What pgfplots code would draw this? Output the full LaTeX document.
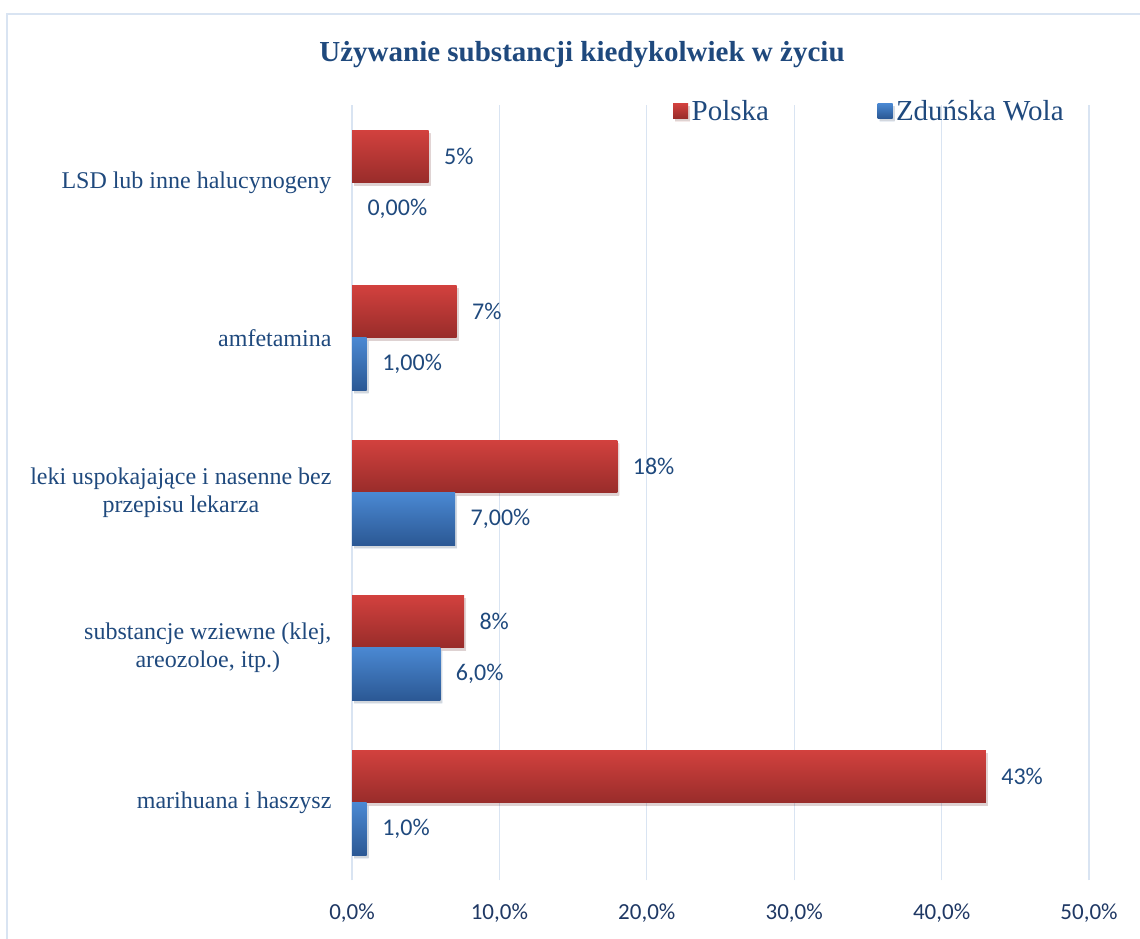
\documentclass[border=0pt]{standalone}
\usepackage{pgfplots}
\pgfplotsset{compat=1.18}
\usepackage{fontspec}
\setmainfont{Liberation Serif}
\newfontfamily\calibri{Carlito}
\definecolor{txt}{RGB}{31,73,125}
\definecolor{ticktxt}{RGB}{31,56,100}
\definecolor{gridc}{RGB}{217,228,242}
\definecolor{redtop}{RGB}{210,65,62}
\definecolor{redbot}{RGB}{152,44,42}
\definecolor{bluetop}{RGB}{74,136,210}
\definecolor{bluebot}{RGB}{43,88,148}
\pgfplotsset{
  barshadow/.style={preaction={fill=black, fill opacity=0.10, transform canvas={xshift=2pt, yshift=-3pt}}},
  polska/.style={xbar, bar shift=26.25pt, draw=none, barshadow, top color=redtop, bottom color=redbot,
    every node near coord/.append style={yshift=26.25pt},
    legend image code/.code={\path[top color=redtop, bottom color=redbot] (0pt,-7.5pt) rectangle (15pt,7.5pt);}},
  zdw/.style={xbar, bar shift=-26.25pt, draw=none, barshadow, top color=bluetop, bottom color=bluebot,
    every node near coord/.append style={yshift=-26.25pt},
    legend image code/.code={\path[top color=bluetop, bottom color=bluebot] (0pt,-7.5pt) rectangle (15pt,7.5pt);}},
  zdwzero/.style={xbar, bar shift=-26.25pt, draw=none, fill=none,
    every node near coord/.append style={yshift=-26.25pt}},
}
\begin{document}
\begin{tikzpicture}[x=1pt,y=1pt]
\useasboundingbox (0,0) rectangle (1140,939);
\draw[gridc, line width=2pt] (7,0) -- (7,925) -- (1140,925);
\node[font=\fontsize{29}{34}\selectfont\bfseries, text=txt] at (582,884) {Używanie substancji kiedykolwiek w życiu};
\begin{axis}[
  at={(352pt,58.5pt)}, anchor=south west,
  scale only axis, width=737pt, height=775pt,
  xmin=0, xmax=50, ymin=-0.5, ymax=4.5,
  axis line style={draw=none},
  major tick length=0pt,
  xmajorgrids, grid style={gridc, line width=1.3pt},
  xtick={0,10,20,30,40,50},
  xticklabels={{0,0\%},{10,0\%},{20,0\%},{30,0\%},{40,0\%},{50,0\%}},
  xticklabel style={font=\calibri\fontsize{23}{27}\selectfont, text=ticktxt, yshift=-20pt},
  ytick={0,1,2,3,4},
  yticklabels={marihuana i haszysz, {substancje wziewne (klej,\\areozoloe, itp.)}, {leki uspokajające i nasenne bez\\przepisu lekarza}, amfetamina, LSD lub inne halucynogeny},
  yticklabel style={font=\fontsize{24}{28}\selectfont, text=txt, align=center, xshift=-17pt},
  bar width=52.5pt,
  point meta=explicit symbolic,
  nodes near coords={\pgfplotspointmeta\%},
  every node near coord/.append style={font=\calibri\fontsize{24}{28}\selectfont, text=txt, anchor=west, xshift=12pt},
  legend columns=2,
  legend style={draw=none, fill=none, inner sep=0pt, at={(0.4355,0.993)}, anchor=west, font=\fontsize{29}{33}\selectfont, text=txt, nodes={inner sep=3.5pt}, /tikz/every even column/.append style={column sep=105pt}},
]
\addplot[polska] coordinates {(43,0) [43]};
\addplot[zdw] coordinates {(1,0) [1,0]};
\addplot[polska, forget plot] coordinates {(7.6,1) [8]};
\addplot[polska, forget plot] coordinates {(18,2) [18]};
\addplot[polska, forget plot] coordinates {(7.1,3) [7]};
\addplot[polska, forget plot] coordinates {(5.2,4) [5]};
\addplot[zdw, forget plot] coordinates {(6,1) [6,0]};
\addplot[zdw, forget plot] coordinates {(7,2) [7,00]};
\addplot[zdw, forget plot] coordinates {(1,3) [1,00]};
\addplot[zdwzero, forget plot] coordinates {(0,4) [0,00]};
\legend{Polska, Zduńska Wola}
\end{axis}
\end{tikzpicture}
\end{document}
